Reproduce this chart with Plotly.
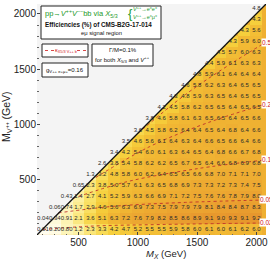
import plotly.graph_objects as go

# ---------------- data ----------------
mx_cols = [200, 300, 400, 500, 600, 700, 800, 900, 1000, 1100, 1200, 1300, 1400,
           1500, 1600, 1700, 1800, 1900, 2000]
mv_rows = [50, 150, 250, 350, 450, 550, 650, 750, 850, 950, 1050, 1150, 1250,
           1350, 1450, 1550, 1650, 1750, 1850, 1950, 2050]
row_start = [200, 200, 300, 400, 500, 600, 700, 800, 900, 1000, 1100, 1200, 1300,
             1400, 1500, 1600, 1700, 1800, 1900, 2000, 2000]
eff_rows = [
    [0.01, 0.20, 0.80, 1.2, 2.3, 3.3, 4.2, 4.7, 5.2, 5.5, 5.5, 5.9, 5.8, 6.0, 6.1, 6.0, 6.1, 6.2, 6.0],
    [0.04, 0.34, 0.91, 2.1, 3.6, 5.1, 6.3, 7.2, 7.6, 7.9, 8.2, 8.5, 8.6, 8.9, 9.1, 9.0, 9.3, 9.1, 9.2],
    [0.06, 0.74, 1.7, 2.9, 4.6, 5.6, 6.3, 6.9, 7.3, 7.5, 7.9, 7.9, 7.9, 8.1, 8.4, 8.4, 8.7, 8.3],
    [0.43, 1.4, 2.7, 4.1, 5.2, 5.9, 6.3, 6.6, 6.9, 7.1, 7.2, 7.5, 7.6, 7.6, 7.8, 7.9, 8.0],
    [0.65, 2.3, 3.8, 5.0, 5.7, 6.1, 6.3, 6.5, 6.8, 6.9, 7.3, 7.3, 7.2, 7.3, 7.4, 7.5],
    [1.3, 3.2, 4.8, 5.8, 6.0, 6.2, 6.4, 6.5, 6.5, 6.6, 6.8, 7.0, 7.1, 7.1, 7.0],
    [2.6, 3.8, 5.4, 5.8, 6.2, 6.2, 6.5, 6.7, 6.5, 6.4, 6.6, 6.8, 6.9, 6.8],
    [3.4, 4.2, 5.4, 6.0, 6.1, 6.3, 6.4, 6.5, 6.4, 6.8, 6.6, 6.7, 6.8],
    [3.5, 4.6, 5.6, 6.1, 6.4, 6.3, 6.4, 6.6, 6.5, 6.6, 6.4, 6.6],
    [3.6, 4.5, 5.8, 6.2, 6.4, 6.4, 6.5, 6.4, 6.8, 6.4, 6.6],
    [3.8, 4.6, 5.8, 6.1, 6.3, 6.5, 6.5, 6.4, 6.5, 6.6],
    [4.2, 4.5, 5.8, 6.2, 6.5, 6.5, 6.4, 6.5, 6.5],
    [4.3, 4.8, 5.9, 6.3, 6.5, 6.4, 6.5, 6.5],
    [4.6, 5.8, 6.2, 6.3, 6.4, 6.5, 6.5],
    [4.8, 5.9, 6.1, 6.4, 6.4, 6.4],
    [4.4, 5.9, 6.1, 6.3, 6.3],
    [4.5, 5.7, 6.0, 6.3],
    [4.3, 5.9, 6.0],
    [4.3, 5.6],
    [4.3],
    [4.8],
]

kappa_labels = ["0.5", "0.2", "0.1", "0.05", "0.02"]
kappa_mx = [[1000, 1400, 1800, 2080], [600, 1100, 1600, 2080], [450, 900, 1500, 2080],
            [330, 800, 1400, 2080], [200, 600, 1200, 2080]]
kappa_mv = [[920, 1270, 1560, 1745], [490, 800, 1020, 1185], [330, 480, 600, 680],
            [200, 260, 295, 317], [50, 80, 95, 109]]

x_ticks = [500, 1000, 1500, 2000]
y_ticks = [500, 1000, 1500, 2000]
X_RANGE = [150, 2080]
Y_RANGE = [0, 2090]

# ---------------- build grid ----------------
z = []
tx, ty, tt = [], [], []
for mv, start, vals in zip(mv_rows, row_start, eff_rows):
    row = [None] * len(mx_cols)
    i0 = mx_cols.index(start)
    for k, v in enumerate(vals):
        row[i0 + k] = v
        tx.append(mx_cols[i0 + k])
        ty.append(mv)
        tt.append(f"{v:.2f}" if v < 1 else f"{v:.1f}")
    z.append(row)

cscale = [
    [0.0, "#fffdf0"], [0.1, "#fdf3b0"], [0.3, "#f9e062"], [0.45, "#f6cf3c"],
    [0.62, "#f2ba34"], [0.7, "#efb032"], [0.85, "#eba230"], [1.0, "#e6942c"],
]

fig = go.Figure()
fig.add_trace(go.Heatmap(x=mx_cols, y=mv_rows, z=z, colorscale=cscale, zmin=0, zmax=9.5,
                         showscale=False, hoverinfo="skip"))
fig.add_trace(go.Scatter(x=[X_RANGE[0], X_RANGE[1], X_RANGE[0], X_RANGE[0]],
                         y=[Y_RANGE[0], Y_RANGE[1], Y_RANGE[1], Y_RANGE[0]],
                         fill="toself", fillcolor="#f4f4f4", mode="none",
                         showlegend=False, hoverinfo="skip"))
for lab, xs, ys in zip(kappa_labels, kappa_mx, kappa_mv):
    fig.add_trace(go.Scatter(x=xs, y=ys, mode="lines",
                             line=dict(color="#c0302a", width=0.9, dash="dot", shape="spline"),
                             showlegend=False, hoverinfo="skip"))
fig.add_trace(go.Scatter(x=[X_RANGE[0], X_RANGE[1]], y=[Y_RANGE[0], Y_RANGE[1]], mode="lines",
                         line=dict(color="#111", width=1.3), showlegend=False, hoverinfo="skip"))
fig.add_trace(go.Scatter(x=tx, y=ty, text=tt, mode="text",
                         textfont=dict(size=6, color="#2a2a2a", family="Liberation Sans"),
                         showlegend=False, hoverinfo="skip", cliponaxis=True))

F = "Liberation Sans"
annotations = []
for lab, xs, ys in zip(kappa_labels, kappa_mx, kappa_mv):
    annotations.append(dict(x=xs[-1], y=ys[-1], xref="x", yref="y", text=lab, showarrow=False,
                            font=dict(size=6.5, color="#d01818", family=F),
                            bgcolor="white", borderpad=0, xanchor="center", yanchor="middle"))

# pixel helpers for legend boxes (plot area: x 37..266, y 4..235)
def px(xp):
    return (xp - 37) / 229.0
def py(yp):
    return (235 - yp) / 231.0

shapes = []
for (x0, y0, x1, y1) in [(41, 6, 161, 39), (42, 44, 88, 57), (42, 63, 88, 77), (92, 44, 153, 66)]:
    shapes.append(dict(type="rect", xref="paper", yref="paper", x0=px(x0), x1=px(x1), y0=py(y1), y1=py(y0),
                       line=dict(color="#222", width=1), fillcolor="white", layer="above"))
for (x0, x1) in [(45, 54), (77, 86)]:
    shapes.append(dict(type="line", xref="paper", yref="paper", x0=px(x0), x1=px(x1), y0=py(50.5), y1=py(50.5),
                       line=dict(color="#d01818", width=0.8, dash="dot"), layer="above"))

green = "#22992a"
annotations += [
    dict(x=px(43), y=py(13), text="pp→<i>V</i><sup>++</sup><i>V</i><sup>−−</sup>bb via <i>X</i><sub>5/3</sub>",
         font=dict(size=7.5, color=green, family=F), xanchor="left"),
    dict(x=px(126), y=py(13), text="{", font=dict(size=13, color=green, family=F), xanchor="left"),
    dict(x=px(131), y=py(9), text="<i>V</i><sup>++</sup>→e<sup>±</sup>e<sup>±</sup>",
         font=dict(size=5.5, color=green, family=F), xanchor="left"),
    dict(x=px(131), y=py(17.5), text="<i>V</i><sup>++</sup>→e<sup>±</sup>μ<sup>±</sup>",
         font=dict(size=5.5, color=green, family=F), xanchor="left"),
    dict(x=px(43), y=py(25), text="<b>Efficiencies (%) of CMS-B2G-17-014</b>",
         font=dict(size=6.3, color="#111", family=F), xanchor="left"),
    dict(x=px(101), y=py(33.5), text="eμ signal region", font=dict(size=5.8, color="#111", family=F),
         xanchor="center"),
    dict(x=px(65.5), y=py(50.5), text="κ<sub>X5/3 V++ b</sub>", font=dict(size=5.5, color="#d01818", family=F),
         xanchor="center"),
    dict(x=px(65), y=py(70), text="g<sub>V++ e+μ+</sub>=0.16", font=dict(size=6, color="#111", family=F),
         xanchor="center"),
    dict(x=px(122.5), y=py(50), text="Γ/M=0.1%", font=dict(size=6, color="#111", family=F), xanchor="center"),
    dict(x=px(122.5), y=py(59), text="for both <i>X</i><sub>5/3</sub> and <i>V</i><sup>++</sup>",
         font=dict(size=6, color="#111", family=F), xanchor="center"),
    dict(x=px(166), y=py(254), text="<i>M</i><sub><i>X</i></sub> (GeV)",
         font=dict(size=9.5, color="#222", family=F), xanchor="center"),
    dict(x=px(7), y=py(117), text="M<sub>V<sup>++</sup></sub> (GeV)", textangle=-90,
         font=dict(size=10.5, color="#222", family=F), xanchor="center"),
]
for a in annotations:
    a.setdefault("xref", "paper")
    a.setdefault("yref", "paper")
    a.setdefault("showarrow", False)
    a.setdefault("yanchor", "middle")

axis_common = dict(showgrid=False, zeroline=False, showline=False, ticks="inside", ticklen=3,
                   tickcolor="#444", tickfont=dict(size=10, color="#222", family=F), automargin=False,
                   minor=dict(ticks="inside", ticklen=1.5, dtick=100, tickcolor="#666"))

fig.update_layout(
    width=270, height=259,
    margin=dict(l=37, r=4, t=4, b=24),
    paper_bgcolor="white", plot_bgcolor="#efb032",
    xaxis=dict(range=X_RANGE, tickvals=x_ticks, **axis_common),
    yaxis=dict(range=Y_RANGE, tickvals=y_ticks, **axis_common),
    shapes=shapes, annotations=annotations, showlegend=False,
)
fig.write_html("out.html", config={"displayModeBar": False},
               post_script="document.body.style.margin='0px';document.body.style.padding='0px';")
